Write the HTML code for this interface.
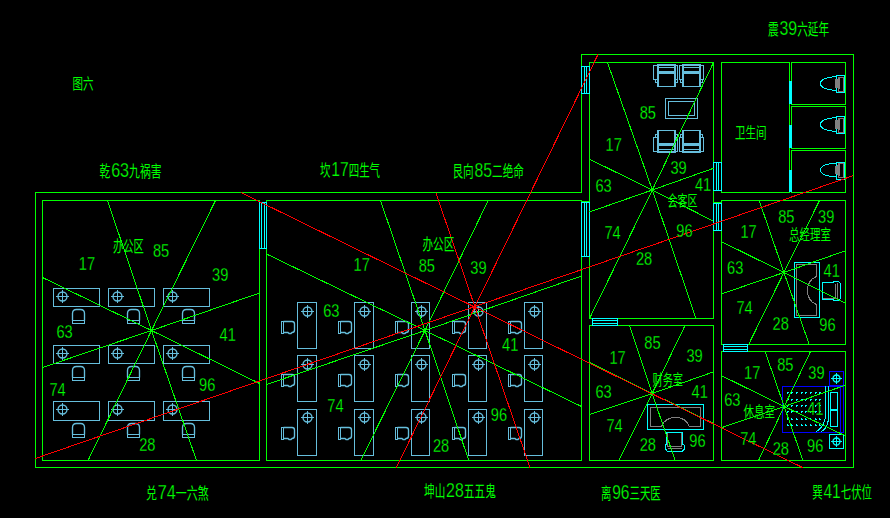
<!DOCTYPE html>
<html lang="zh"><head><meta charset="utf-8"><title>图六</title>
<style>
html,body{margin:0;padding:0;background:#000;}
body{width:890px;height:518px;overflow:hidden;}
svg{display:block}
svg line,svg rect,svg path,svg circle{fill:none;stroke-width:1;shape-rendering:crispEdges;}
text{fill:#00ff00;stroke:none;}
text.d,tspan.d{font-family:"Liberation Sans",sans-serif;font-weight:400;stroke:#000;stroke-width:0.25px;}
svg .aa{shape-rendering:geometricPrecision;stroke-width:1.35;}
text.c{font-family:"Liberation Sans","Noto Sans CJK SC","WenQuanYi Zen Hei",sans-serif;font-weight:400;}
</style></head><body>
<svg width="890" height="518" viewBox="0 0 890 518">
<rect x="0" y="0" width="890" height="518" style="fill:#000;stroke:none"/>
<rect x="53.5" y="288.5" width="46" height="18" stroke="#66bedc" />
<circle class="aa" cx="62.5" cy="296.5" r="4.5" stroke="#66bedc"/>
<line x1="56.0" y1="296.5" x2="69.0" y2="296.5" stroke="#66bedc"/>
<line x1="62.5" y1="290.0" x2="62.5" y2="303.0" stroke="#66bedc"/>
<path d="M72.5,320.5 V313.5 Q72.5,309.5 76.5,309.5 H80.5 Q84.5,309.5 84.5,313.5 V320.5" stroke="#66bedc" class="aa"/>
<rect x="72.5" y="320.5" width="12" height="3" stroke="#66bedc" />
<rect x="108.5" y="288.5" width="46" height="18" stroke="#66bedc" />
<circle class="aa" cx="117.5" cy="296.5" r="4.5" stroke="#66bedc"/>
<line x1="111.0" y1="296.5" x2="124.0" y2="296.5" stroke="#66bedc"/>
<line x1="117.5" y1="290.0" x2="117.5" y2="303.0" stroke="#66bedc"/>
<path d="M127.5,320.5 V313.5 Q127.5,309.5 131.5,309.5 H135.5 Q139.5,309.5 139.5,313.5 V320.5" stroke="#66bedc" class="aa"/>
<rect x="127.5" y="320.5" width="12" height="3" stroke="#66bedc" />
<rect x="163.5" y="288.5" width="46" height="18" stroke="#66bedc" />
<circle class="aa" cx="172.5" cy="296.5" r="4.5" stroke="#66bedc"/>
<line x1="166.0" y1="296.5" x2="179.0" y2="296.5" stroke="#66bedc"/>
<line x1="172.5" y1="290.0" x2="172.5" y2="303.0" stroke="#66bedc"/>
<path d="M182.5,320.5 V313.5 Q182.5,309.5 186.5,309.5 H190.5 Q194.5,309.5 194.5,313.5 V320.5" stroke="#66bedc" class="aa"/>
<rect x="182.5" y="320.5" width="12" height="3" stroke="#66bedc" />
<rect x="53.5" y="345.5" width="46" height="18" stroke="#66bedc" />
<circle class="aa" cx="62.5" cy="353.5" r="4.5" stroke="#66bedc"/>
<line x1="56.0" y1="353.5" x2="69.0" y2="353.5" stroke="#66bedc"/>
<line x1="62.5" y1="347.0" x2="62.5" y2="360.0" stroke="#66bedc"/>
<path d="M72.5,377.5 V370.5 Q72.5,366.5 76.5,366.5 H80.5 Q84.5,366.5 84.5,370.5 V377.5" stroke="#66bedc" class="aa"/>
<rect x="72.5" y="377.5" width="12" height="3" stroke="#66bedc" />
<rect x="108.5" y="345.5" width="46" height="18" stroke="#66bedc" />
<circle class="aa" cx="117.5" cy="353.5" r="4.5" stroke="#66bedc"/>
<line x1="111.0" y1="353.5" x2="124.0" y2="353.5" stroke="#66bedc"/>
<line x1="117.5" y1="347.0" x2="117.5" y2="360.0" stroke="#66bedc"/>
<path d="M127.5,377.5 V370.5 Q127.5,366.5 131.5,366.5 H135.5 Q139.5,366.5 139.5,370.5 V377.5" stroke="#66bedc" class="aa"/>
<rect x="127.5" y="377.5" width="12" height="3" stroke="#66bedc" />
<rect x="163.5" y="345.5" width="46" height="18" stroke="#66bedc" />
<circle class="aa" cx="172.5" cy="353.5" r="4.5" stroke="#66bedc"/>
<line x1="166.0" y1="353.5" x2="179.0" y2="353.5" stroke="#66bedc"/>
<line x1="172.5" y1="347.0" x2="172.5" y2="360.0" stroke="#66bedc"/>
<path d="M182.5,377.5 V370.5 Q182.5,366.5 186.5,366.5 H190.5 Q194.5,366.5 194.5,370.5 V377.5" stroke="#66bedc" class="aa"/>
<rect x="182.5" y="377.5" width="12" height="3" stroke="#66bedc" />
<rect x="53.5" y="401.5" width="46" height="19" stroke="#66bedc" />
<circle class="aa" cx="62.5" cy="409.5" r="4.5" stroke="#66bedc"/>
<line x1="56.0" y1="409.5" x2="69.0" y2="409.5" stroke="#66bedc"/>
<line x1="62.5" y1="403.0" x2="62.5" y2="416.0" stroke="#66bedc"/>
<path d="M72.5,434.5 V427.5 Q72.5,423.5 76.5,423.5 H80.5 Q84.5,423.5 84.5,427.5 V434.5" stroke="#66bedc" class="aa"/>
<rect x="72.5" y="434.5" width="12" height="3" stroke="#66bedc" />
<rect x="108.5" y="401.5" width="46" height="19" stroke="#66bedc" />
<circle class="aa" cx="117.5" cy="409.5" r="4.5" stroke="#66bedc"/>
<line x1="111.0" y1="409.5" x2="124.0" y2="409.5" stroke="#66bedc"/>
<line x1="117.5" y1="403.0" x2="117.5" y2="416.0" stroke="#66bedc"/>
<path d="M127.5,434.5 V427.5 Q127.5,423.5 131.5,423.5 H135.5 Q139.5,423.5 139.5,427.5 V434.5" stroke="#66bedc" class="aa"/>
<rect x="127.5" y="434.5" width="12" height="3" stroke="#66bedc" />
<rect x="163.5" y="401.5" width="46" height="19" stroke="#66bedc" />
<circle class="aa" cx="172.5" cy="409.5" r="4.5" stroke="#66bedc"/>
<line x1="166.0" y1="409.5" x2="179.0" y2="409.5" stroke="#66bedc"/>
<line x1="172.5" y1="403.0" x2="172.5" y2="416.0" stroke="#66bedc"/>
<path d="M182.5,434.5 V427.5 Q182.5,423.5 186.5,423.5 H190.5 Q194.5,423.5 194.5,427.5 V434.5" stroke="#66bedc" class="aa"/>
<rect x="182.5" y="434.5" width="12" height="3" stroke="#66bedc" />
<rect x="297.5" y="302.5" width="19" height="46" stroke="#66bedc" />
<circle class="aa" cx="307.5" cy="311.5" r="4.5" stroke="#66bedc"/>
<line x1="301.0" y1="311.5" x2="314.0" y2="311.5" stroke="#66bedc"/>
<line x1="307.5" y1="305.0" x2="307.5" y2="318.0" stroke="#66bedc"/>
<rect x="281.5" y="321.5" width="2" height="12" stroke="#66bedc" />
<path d="M283.5,321.5 H292 Q294.5,321.5 294.5,324 V330 Q294.5,332.5 292,332.5 L291,333.5 H289 L288,332.5 H283.5" stroke="#66bedc" class="aa"/>
<rect x="354.5" y="302.5" width="19" height="46" stroke="#66bedc" />
<circle class="aa" cx="364.5" cy="311.5" r="4.5" stroke="#66bedc"/>
<line x1="358.0" y1="311.5" x2="371.0" y2="311.5" stroke="#66bedc"/>
<line x1="364.5" y1="305.0" x2="364.5" y2="318.0" stroke="#66bedc"/>
<rect x="338.5" y="321.5" width="2" height="12" stroke="#66bedc" />
<path d="M340.5,321.5 H349 Q351.5,321.5 351.5,324 V330 Q351.5,332.5 349,332.5 L348,333.5 H346 L345,332.5 H340.5" stroke="#66bedc" class="aa"/>
<rect x="411.5" y="302.5" width="18" height="46" stroke="#66bedc" />
<circle class="aa" cx="421.5" cy="311.5" r="4.5" stroke="#66bedc"/>
<line x1="415.0" y1="311.5" x2="428.0" y2="311.5" stroke="#66bedc"/>
<line x1="421.5" y1="305.0" x2="421.5" y2="318.0" stroke="#66bedc"/>
<rect x="395.5" y="321.5" width="2" height="12" stroke="#66bedc" />
<path d="M397.5,321.5 H406 Q408.5,321.5 408.5,324 V330 Q408.5,332.5 406,332.5 L405,333.5 H403 L402,332.5 H397.5" stroke="#66bedc" class="aa"/>
<rect x="468.5" y="302.5" width="18" height="46" stroke="#66bedc" />
<circle class="aa" cx="478.5" cy="311.5" r="4.5" stroke="#66bedc"/>
<line x1="472.0" y1="311.5" x2="485.0" y2="311.5" stroke="#66bedc"/>
<line x1="478.5" y1="305.0" x2="478.5" y2="318.0" stroke="#66bedc"/>
<rect x="452.5" y="321.5" width="2" height="12" stroke="#66bedc" />
<path d="M454.5,321.5 H463 Q465.5,321.5 465.5,324 V330 Q465.5,332.5 463,332.5 L462,333.5 H460 L459,332.5 H454.5" stroke="#66bedc" class="aa"/>
<rect x="524.5" y="302.5" width="18" height="46" stroke="#66bedc" />
<circle class="aa" cx="534.5" cy="311.5" r="4.5" stroke="#66bedc"/>
<line x1="528.0" y1="311.5" x2="541.0" y2="311.5" stroke="#66bedc"/>
<line x1="534.5" y1="305.0" x2="534.5" y2="318.0" stroke="#66bedc"/>
<rect x="508.5" y="321.5" width="2" height="12" stroke="#66bedc" />
<path d="M510.5,321.5 H519 Q521.5,321.5 521.5,324 V330 Q521.5,332.5 519,332.5 L518,333.5 H516 L515,332.5 H510.5" stroke="#66bedc" class="aa"/>
<rect x="297.5" y="355.5" width="19" height="46" stroke="#66bedc" />
<circle class="aa" cx="307.5" cy="364.5" r="4.5" stroke="#66bedc"/>
<line x1="301.0" y1="364.5" x2="314.0" y2="364.5" stroke="#66bedc"/>
<line x1="307.5" y1="358.0" x2="307.5" y2="371.0" stroke="#66bedc"/>
<rect x="281.5" y="374.5" width="2" height="12" stroke="#66bedc" />
<path d="M283.5,374.5 H292 Q294.5,374.5 294.5,377 V383 Q294.5,385.5 292,385.5 L291,386.5 H289 L288,385.5 H283.5" stroke="#66bedc" class="aa"/>
<rect x="354.5" y="355.5" width="19" height="46" stroke="#66bedc" />
<circle class="aa" cx="364.5" cy="364.5" r="4.5" stroke="#66bedc"/>
<line x1="358.0" y1="364.5" x2="371.0" y2="364.5" stroke="#66bedc"/>
<line x1="364.5" y1="358.0" x2="364.5" y2="371.0" stroke="#66bedc"/>
<rect x="338.5" y="374.5" width="2" height="12" stroke="#66bedc" />
<path d="M340.5,374.5 H349 Q351.5,374.5 351.5,377 V383 Q351.5,385.5 349,385.5 L348,386.5 H346 L345,385.5 H340.5" stroke="#66bedc" class="aa"/>
<rect x="411.5" y="355.5" width="18" height="46" stroke="#66bedc" />
<circle class="aa" cx="421.5" cy="364.5" r="4.5" stroke="#66bedc"/>
<line x1="415.0" y1="364.5" x2="428.0" y2="364.5" stroke="#66bedc"/>
<line x1="421.5" y1="358.0" x2="421.5" y2="371.0" stroke="#66bedc"/>
<rect x="395.5" y="374.5" width="2" height="12" stroke="#66bedc" />
<path d="M397.5,374.5 H406 Q408.5,374.5 408.5,377 V383 Q408.5,385.5 406,385.5 L405,386.5 H403 L402,385.5 H397.5" stroke="#66bedc" class="aa"/>
<rect x="468.5" y="355.5" width="18" height="46" stroke="#66bedc" />
<circle class="aa" cx="478.5" cy="364.5" r="4.5" stroke="#66bedc"/>
<line x1="472.0" y1="364.5" x2="485.0" y2="364.5" stroke="#66bedc"/>
<line x1="478.5" y1="358.0" x2="478.5" y2="371.0" stroke="#66bedc"/>
<rect x="452.5" y="374.5" width="2" height="12" stroke="#66bedc" />
<path d="M454.5,374.5 H463 Q465.5,374.5 465.5,377 V383 Q465.5,385.5 463,385.5 L462,386.5 H460 L459,385.5 H454.5" stroke="#66bedc" class="aa"/>
<rect x="524.5" y="355.5" width="18" height="46" stroke="#66bedc" />
<circle class="aa" cx="534.5" cy="364.5" r="4.5" stroke="#66bedc"/>
<line x1="528.0" y1="364.5" x2="541.0" y2="364.5" stroke="#66bedc"/>
<line x1="534.5" y1="358.0" x2="534.5" y2="371.0" stroke="#66bedc"/>
<rect x="508.5" y="374.5" width="2" height="12" stroke="#66bedc" />
<path d="M510.5,374.5 H519 Q521.5,374.5 521.5,377 V383 Q521.5,385.5 519,385.5 L518,386.5 H516 L515,385.5 H510.5" stroke="#66bedc" class="aa"/>
<rect x="297.5" y="409.5" width="19" height="46" stroke="#66bedc" />
<circle class="aa" cx="307.5" cy="417.5" r="4.5" stroke="#66bedc"/>
<line x1="301.0" y1="417.5" x2="314.0" y2="417.5" stroke="#66bedc"/>
<line x1="307.5" y1="411.0" x2="307.5" y2="424.0" stroke="#66bedc"/>
<rect x="281.5" y="427.5" width="2" height="12" stroke="#66bedc" />
<path d="M283.5,427.5 H292 Q294.5,427.5 294.5,430 V436 Q294.5,438.5 292,438.5 L291,439.5 H289 L288,438.5 H283.5" stroke="#66bedc" class="aa"/>
<rect x="354.5" y="409.5" width="19" height="46" stroke="#66bedc" />
<circle class="aa" cx="364.5" cy="417.5" r="4.5" stroke="#66bedc"/>
<line x1="358.0" y1="417.5" x2="371.0" y2="417.5" stroke="#66bedc"/>
<line x1="364.5" y1="411.0" x2="364.5" y2="424.0" stroke="#66bedc"/>
<rect x="338.5" y="427.5" width="2" height="12" stroke="#66bedc" />
<path d="M340.5,427.5 H349 Q351.5,427.5 351.5,430 V436 Q351.5,438.5 349,438.5 L348,439.5 H346 L345,438.5 H340.5" stroke="#66bedc" class="aa"/>
<rect x="411.5" y="409.5" width="18" height="46" stroke="#66bedc" />
<circle class="aa" cx="421.5" cy="417.5" r="4.5" stroke="#66bedc"/>
<line x1="415.0" y1="417.5" x2="428.0" y2="417.5" stroke="#66bedc"/>
<line x1="421.5" y1="411.0" x2="421.5" y2="424.0" stroke="#66bedc"/>
<rect x="395.5" y="427.5" width="2" height="12" stroke="#66bedc" />
<path d="M397.5,427.5 H406 Q408.5,427.5 408.5,430 V436 Q408.5,438.5 406,438.5 L405,439.5 H403 L402,438.5 H397.5" stroke="#66bedc" class="aa"/>
<rect x="468.5" y="409.5" width="18" height="46" stroke="#66bedc" />
<circle class="aa" cx="478.5" cy="417.5" r="4.5" stroke="#66bedc"/>
<line x1="472.0" y1="417.5" x2="485.0" y2="417.5" stroke="#66bedc"/>
<line x1="478.5" y1="411.0" x2="478.5" y2="424.0" stroke="#66bedc"/>
<rect x="452.5" y="427.5" width="2" height="12" stroke="#66bedc" />
<path d="M454.5,427.5 H463 Q465.5,427.5 465.5,430 V436 Q465.5,438.5 463,438.5 L462,439.5 H460 L459,438.5 H454.5" stroke="#66bedc" class="aa"/>
<rect x="524.5" y="409.5" width="18" height="46" stroke="#66bedc" />
<circle class="aa" cx="534.5" cy="417.5" r="4.5" stroke="#66bedc"/>
<line x1="528.0" y1="417.5" x2="541.0" y2="417.5" stroke="#66bedc"/>
<line x1="534.5" y1="411.0" x2="534.5" y2="424.0" stroke="#66bedc"/>
<rect x="508.5" y="427.5" width="2" height="12" stroke="#66bedc" />
<path d="M510.5,427.5 H519 Q521.5,427.5 521.5,430 V436 Q521.5,438.5 519,438.5 L518,439.5 H516 L515,438.5 H510.5" stroke="#66bedc" class="aa"/>
<rect x="657.5" y="64.5" width="18" height="22" stroke="#66bedc" />
<rect x="658.5" y="65.5" width="16" height="21" stroke="#66bedc" />
<line x1="658" y1="67.5" x2="675" y2="67.5" stroke="#66bedc"/>
<rect x="658.5" y="71.5" width="16" height="2" stroke="#66bedc" style="fill:#66bedc"/>
<rect x="653.5" y="65.5" width="4" height="14" stroke="#66bedc" />
<rect x="675.5" y="65.5" width="2" height="14" stroke="#66bedc" />
<rect x="655.5" y="79.5" width="2" height="3" stroke="#66bedc" />
<rect x="675.5" y="79.5" width="2" height="3" stroke="#66bedc" />
<rect x="682.5" y="64.5" width="18" height="22" stroke="#66bedc" />
<rect x="683.5" y="65.5" width="16" height="21" stroke="#66bedc" />
<line x1="683" y1="67.5" x2="700" y2="67.5" stroke="#66bedc"/>
<rect x="683.5" y="71.5" width="16" height="2" stroke="#66bedc" style="fill:#66bedc"/>
<rect x="679.5" y="65.5" width="3" height="14" stroke="#66bedc" />
<rect x="700.5" y="65.5" width="3" height="14" stroke="#66bedc" />
<rect x="680.5" y="79.5" width="2" height="3" stroke="#66bedc" />
<rect x="700.5" y="79.5" width="2" height="3" stroke="#66bedc" />
<rect x="657.5" y="130.5" width="18" height="22" stroke="#66bedc" />
<rect x="658.5" y="130.5" width="16" height="21" stroke="#66bedc" />
<line x1="658" y1="149.5" x2="675" y2="149.5" stroke="#66bedc"/>
<rect x="658.5" y="143.5" width="16" height="2" stroke="#66bedc" style="fill:#66bedc"/>
<rect x="653.5" y="137.5" width="4" height="14" stroke="#66bedc" />
<rect x="675.5" y="137.5" width="2" height="14" stroke="#66bedc" />
<rect x="655.5" y="134.5" width="2" height="3" stroke="#66bedc" />
<rect x="675.5" y="134.5" width="2" height="3" stroke="#66bedc" />
<rect x="682.5" y="130.5" width="18" height="22" stroke="#66bedc" />
<rect x="683.5" y="130.5" width="16" height="21" stroke="#66bedc" />
<line x1="683" y1="149.5" x2="700" y2="149.5" stroke="#66bedc"/>
<rect x="683.5" y="143.5" width="16" height="2" stroke="#66bedc" style="fill:#66bedc"/>
<rect x="679.5" y="137.5" width="3" height="14" stroke="#66bedc" />
<rect x="700.5" y="137.5" width="3" height="14" stroke="#66bedc" />
<rect x="680.5" y="134.5" width="2" height="3" stroke="#66bedc" />
<rect x="700.5" y="134.5" width="2" height="3" stroke="#66bedc" />
<rect x="665.5" y="98.5" width="32" height="20" stroke="#66bedc" />
<rect x="668.5" y="101.5" width="26" height="14" stroke="#66bedc" />
<rect x="647.5" y="404.5" width="56" height="25" stroke="#00ffff" />
<path d="M650.5,407.5 H700.5 V426.5 H689.5 Q686,417.5 675.5,417.5 Q665,417.5 661.5,426.5 H650.5 Z" stroke="#808080" />
<path d="M666.5,432.5 H682.5 V444 Q684.5,444 684.5,447 Q684.5,451.5 680,451.5 H669 Q665.5,451.5 665.5,447 Q665.5,444 666.5,444 Z" stroke="#00ffff" />
<path d="M667.5,433 V446.5 H681.5 V433 M667.5,448.5 H681.5" stroke="#808080" />
<rect x="794.5" y="262.5" width="25" height="55" stroke="#00ffff" />
<path d="M796.5,264.5 H816.5 V276.5 Q807.5,280 807.5,290.5 Q807.5,301 816.5,304.5 V315.5 H796.5 Z" stroke="#808080" />
<path d="M822.5,282.5 H833 V281.5 H837 Q840.5,281.5 840.5,285 V297 Q840.5,300.5 837,300.5 H833 V299.5 H822.5 Z" stroke="#00ffff" />
<path d="M823,298.5 H835.5 V283.5 M837.5,283 V299" stroke="#808080" />
<path d="M836,77.0 C830,76.3 822.5,78.5 820.5,82.3 V84.7 C822.5,88.5 830,90.7 836,90.0" stroke="#00ffff" />
<rect x="836.5" y="75.5" width="8" height="17.0" stroke="#00ffff" />
<rect x="838.5" y="77.0" width="5" height="14.0" stroke="#8a6f6f" />
<path d="M835.5,80.0 L839.5,78.5 V88.5 L835.5,87.0 Z" stroke="#808080" style="fill:#808080"/>
<path d="M836,118.0 C830,117.3 822.5,119.5 820.5,123.3 V125.7 C822.5,129.5 830,131.7 836,131.0" stroke="#00ffff" />
<rect x="836.5" y="116.5" width="8" height="17.0" stroke="#00ffff" />
<rect x="838.5" y="118.0" width="5" height="14.0" stroke="#8a6f6f" />
<path d="M835.5,121.0 L839.5,119.5 V129.5 L835.5,128.0 Z" stroke="#808080" style="fill:#808080"/>
<path d="M836,163.5 C830,162.8 822.5,165 820.5,168.8 V171.2 C822.5,175 830,177.2 836,176.5" stroke="#00ffff" />
<rect x="836.5" y="162.0" width="8" height="17.0" stroke="#00ffff" />
<rect x="838.5" y="163.5" width="5" height="14" stroke="#8a6f6f" />
<path d="M835.5,166.5 L839.5,165 V175 L835.5,173.5 Z" stroke="#808080" style="fill:#808080"/>
<rect x="782.5" y="386.5" width="61" height="46" stroke="#0000ff" />
<line x1="840.5" y1="386" x2="840.5" y2="433" stroke="#0000ff"/>
<rect x="829.5" y="371.5" width="14" height="14" stroke="#0000ff" />
<circle class="aa" cx="836.5" cy="378.5" r="3.5" stroke="#00ffff"/>
<line x1="831.0" y1="378.5" x2="842.0" y2="378.5" stroke="#00ffff"/>
<line x1="836.5" y1="373.0" x2="836.5" y2="384.0" stroke="#00ffff"/>
<rect x="829.5" y="434.5" width="14" height="14" stroke="#00ffff" />
<circle class="aa" cx="836.5" cy="441.5" r="3.5" stroke="#00ffff"/>
<line x1="831.0" y1="441.5" x2="842.0" y2="441.5" stroke="#00ffff"/>
<line x1="836.5" y1="436.0" x2="836.5" y2="447.0" stroke="#00ffff"/>
<rect x="830.5" y="392.5" width="7" height="17" stroke="#00ffff" />
<rect x="830.5" y="410.5" width="7" height="16" stroke="#00ffff" />
<path d="M825.5,386 V414 Q825.5,426 816,432" stroke="#00ffff" />
<path d="M828.5,386 V416 Q828.5,428 821,432" stroke="#00ffff" />
<path d="M787.5,394 V392.5 H789" stroke="#00ffff" />
<path d="M791.5,394 V392.5 H793" stroke="#00ffff" />
<path d="M796.5,394 V392.5 H798" stroke="#00ffff" />
<path d="M801.5,394 V392.5 H803" stroke="#00ffff" />
<path d="M805.5,394 V392.5 H807" stroke="#00ffff" />
<path d="M810.5,394 V392.5 H812" stroke="#00ffff" />
<path d="M815.5,394 V392.5 H817" stroke="#00ffff" />
<path d="M819.5,394 V392.5 H821" stroke="#00ffff" />
<path d="M787.5,401 V399.5 H789" stroke="#00ffff" />
<path d="M791.5,401 V399.5 H793" stroke="#00ffff" />
<path d="M796.5,401 V399.5 H798" stroke="#00ffff" />
<path d="M801.5,401 V399.5 H803" stroke="#00ffff" />
<path d="M805.5,401 V399.5 H807" stroke="#00ffff" />
<path d="M810.5,401 V399.5 H812" stroke="#00ffff" />
<path d="M815.5,401 V399.5 H817" stroke="#00ffff" />
<path d="M819.5,401 V399.5 H821" stroke="#00ffff" />
<path d="M787.5,407 V405.5 H789" stroke="#00ffff" />
<path d="M791.5,407 V405.5 H793" stroke="#00ffff" />
<path d="M796.5,407 V405.5 H798" stroke="#00ffff" />
<path d="M801.5,407 V405.5 H803" stroke="#00ffff" />
<path d="M805.5,407 V405.5 H807" stroke="#00ffff" />
<path d="M810.5,407 V405.5 H812" stroke="#00ffff" />
<path d="M815.5,407 V405.5 H817" stroke="#00ffff" />
<path d="M819.5,407 V405.5 H821" stroke="#00ffff" />
<path d="M787.5,413 V411.5 H789" stroke="#00ffff" />
<path d="M791.5,413 V411.5 H793" stroke="#00ffff" />
<path d="M796.5,413 V411.5 H798" stroke="#00ffff" />
<path d="M801.5,413 V411.5 H803" stroke="#00ffff" />
<path d="M805.5,413 V411.5 H807" stroke="#00ffff" />
<path d="M810.5,413 V411.5 H812" stroke="#00ffff" />
<path d="M815.5,413 V411.5 H817" stroke="#00ffff" />
<path d="M819.5,413 V411.5 H821" stroke="#00ffff" />
<path d="M787.5,418 V419.5 H789" stroke="#00ffff" />
<path d="M791.5,418 V419.5 H793" stroke="#00ffff" />
<path d="M796.5,418 V419.5 H798" stroke="#00ffff" />
<path d="M801.5,418 V419.5 H803" stroke="#00ffff" />
<path d="M805.5,418 V419.5 H807" stroke="#00ffff" />
<path d="M810.5,418 V419.5 H812" stroke="#00ffff" />
<path d="M815.5,418 V419.5 H817" stroke="#00ffff" />
<path d="M819.5,418 V419.5 H821" stroke="#00ffff" />
<path d="M787.5,424 V425.5 H789" stroke="#00ffff" />
<path d="M791.5,424 V425.5 H793" stroke="#00ffff" />
<path d="M796.5,424 V425.5 H798" stroke="#00ffff" />
<path d="M801.5,424 V425.5 H803" stroke="#00ffff" />
<path d="M805.5,424 V425.5 H807" stroke="#00ffff" />
<path d="M810.5,424 V425.5 H812" stroke="#00ffff" />
<path d="M815.5,424 V425.5 H817" stroke="#00ffff" />
<path d="M819.5,424 V425.5 H821" stroke="#00ffff" />
<line x1="35" y1="192.5" x2="582" y2="192.5" stroke="#00ff00"/>
<line x1="35.5" y1="192" x2="35.5" y2="468" stroke="#00ff00"/>
<line x1="35" y1="467.5" x2="854" y2="467.5" stroke="#00ff00"/>
<line x1="853.5" y1="54" x2="853.5" y2="468" stroke="#00ff00"/>
<line x1="581" y1="54.5" x2="854" y2="54.5" stroke="#00ff00"/>
<line x1="581.5" y1="54" x2="581.5" y2="193" stroke="#00ff00"/>
<line x1="42" y1="200.5" x2="260" y2="200.5" stroke="#00ff00"/>
<line x1="266" y1="200.5" x2="582" y2="200.5" stroke="#00ff00"/>
<line x1="42.5" y1="200" x2="42.5" y2="461" stroke="#00ff00"/>
<line x1="42" y1="460.5" x2="260" y2="460.5" stroke="#00ff00"/>
<line x1="259.5" y1="248" x2="259.5" y2="461" stroke="#00ff00"/>
<line x1="266.5" y1="200" x2="266.5" y2="203" stroke="#00ff00"/>
<line x1="266.5" y1="248" x2="266.5" y2="461" stroke="#00ff00"/>
<line x1="266" y1="460.5" x2="582" y2="460.5" stroke="#00ff00"/>
<line x1="581.5" y1="256" x2="581.5" y2="461" stroke="#00ff00"/>
<line x1="589" y1="62.5" x2="714" y2="62.5" stroke="#00ff00"/>
<line x1="589.5" y1="62" x2="589.5" y2="202" stroke="#00ff00"/>
<line x1="589.5" y1="256" x2="589.5" y2="319" stroke="#00ff00"/>
<line x1="589" y1="318.5" x2="714" y2="318.5" stroke="#00ff00"/>
<line x1="713.5" y1="62" x2="713.5" y2="319" stroke="#00ff00"/>
<line x1="581" y1="201.5" x2="590" y2="201.5" stroke="#00ff00"/>
<line x1="581" y1="256.5" x2="590" y2="256.5" stroke="#00ff00"/>
<rect x="589.5" y="325.5" width="124" height="135" stroke="#00ff00" />
<rect x="721.5" y="62.5" width="68" height="130" stroke="#00ff00" />
<rect x="791.5" y="62.5" width="54" height="42" stroke="#00ff00" />
<rect x="791.5" y="106.5" width="54" height="42" stroke="#00ff00" />
<rect x="791.5" y="150.5" width="54" height="42" stroke="#00ff00" />
<rect x="721.5" y="200.5" width="124" height="144" stroke="#00ff00" />
<rect x="721.5" y="351.5" width="124" height="109" stroke="#00ff00" />
<line x1="721.5" y1="190" x2="721.5" y2="193" stroke="#00ff00"/>
<line x1="721.5" y1="200" x2="721.5" y2="203" stroke="#00ff00"/>
<line x1="713" y1="202.5" x2="722" y2="202.5" stroke="#00ff00"/>
<line x1="259.5" y1="202" x2="259.5" y2="249" stroke="#00ffff"/>
<line x1="261.5" y1="202" x2="261.5" y2="249" stroke="#00ffff"/>
<line x1="264.5" y1="202" x2="264.5" y2="249" stroke="#00ffff"/>
<line x1="266.5" y1="202" x2="266.5" y2="249" stroke="#00ffff"/>
<line x1="259" y1="202.5" x2="267" y2="202.5" stroke="#00ffff"/>
<line x1="259" y1="248.5" x2="267" y2="248.5" stroke="#00ffff"/>
<line x1="581.5" y1="66" x2="581.5" y2="94" stroke="#00ffff"/>
<line x1="584.5" y1="66" x2="584.5" y2="94" stroke="#00ffff"/>
<line x1="586.5" y1="66" x2="586.5" y2="94" stroke="#00ffff"/>
<line x1="589.5" y1="66" x2="589.5" y2="94" stroke="#00ffff"/>
<line x1="581" y1="66.5" x2="590" y2="66.5" stroke="#00ffff"/>
<line x1="581" y1="93.5" x2="590" y2="93.5" stroke="#00ffff"/>
<line x1="581.5" y1="202" x2="581.5" y2="257" stroke="#00ffff"/>
<line x1="584.5" y1="202" x2="584.5" y2="257" stroke="#00ffff"/>
<line x1="586.5" y1="202" x2="586.5" y2="257" stroke="#00ffff"/>
<line x1="589.5" y1="202" x2="589.5" y2="257" stroke="#00ffff"/>
<line x1="581" y1="202.5" x2="590" y2="202.5" stroke="#00ffff"/>
<line x1="581" y1="256.5" x2="590" y2="256.5" stroke="#00ffff"/>
<line x1="713.5" y1="162" x2="713.5" y2="191" stroke="#00ffff"/>
<line x1="716.5" y1="162" x2="716.5" y2="191" stroke="#00ffff"/>
<line x1="718.5" y1="162" x2="718.5" y2="191" stroke="#00ffff"/>
<line x1="721.5" y1="162" x2="721.5" y2="191" stroke="#00ffff"/>
<line x1="713" y1="162.5" x2="722" y2="162.5" stroke="#00ffff"/>
<line x1="713" y1="190.5" x2="722" y2="190.5" stroke="#00ffff"/>
<line x1="713.5" y1="203" x2="713.5" y2="231" stroke="#00ffff"/>
<line x1="716.5" y1="203" x2="716.5" y2="231" stroke="#00ffff"/>
<line x1="718.5" y1="203" x2="718.5" y2="231" stroke="#00ffff"/>
<line x1="721.5" y1="203" x2="721.5" y2="231" stroke="#00ffff"/>
<line x1="713" y1="203.5" x2="722" y2="203.5" stroke="#00ffff"/>
<line x1="713" y1="230.5" x2="722" y2="230.5" stroke="#00ffff"/>
<line x1="592" y1="318.5" x2="618" y2="318.5" stroke="#00ffff"/>
<line x1="592" y1="320.5" x2="618" y2="320.5" stroke="#00ffff"/>
<line x1="592" y1="323.5" x2="618" y2="323.5" stroke="#00ffff"/>
<line x1="592" y1="325.5" x2="618" y2="325.5" stroke="#00ffff"/>
<line x1="592.5" y1="318" x2="592.5" y2="326" stroke="#00ffff"/>
<line x1="617.5" y1="318" x2="617.5" y2="326" stroke="#00ffff"/>
<line x1="723" y1="344.5" x2="748" y2="344.5" stroke="#00ffff"/>
<line x1="723" y1="346.5" x2="748" y2="346.5" stroke="#00ffff"/>
<line x1="723" y1="349.5" x2="748" y2="349.5" stroke="#00ffff"/>
<line x1="723" y1="351.5" x2="748" y2="351.5" stroke="#00ffff"/>
<line x1="723.5" y1="344" x2="723.5" y2="352" stroke="#00ffff"/>
<line x1="747.5" y1="344" x2="747.5" y2="352" stroke="#00ffff"/>
<rect x="789" y="81" width="3" height="23" style="fill:#00ffff;stroke:none"/>
<rect x="789" y="125" width="3" height="23" style="fill:#00ffff;stroke:none"/>
<rect x="789" y="170" width="3" height="22" style="fill:#00ffff;stroke:none"/>
<line x1="151.5" y1="330.5" x2="107.5" y2="200.5" stroke="#00ff00"/>
<line x1="151.5" y1="330.5" x2="215.5" y2="200.5" stroke="#00ff00"/>
<line x1="151.5" y1="330.5" x2="42.5" y2="277.5" stroke="#00ff00"/>
<line x1="151.5" y1="330.5" x2="42.5" y2="367.5" stroke="#00ff00"/>
<line x1="151.5" y1="330.5" x2="259.5" y2="293.0" stroke="#00ff00"/>
<line x1="151.5" y1="330.5" x2="259.5" y2="383.5" stroke="#00ff00"/>
<line x1="151.5" y1="330.5" x2="88.0" y2="460.5" stroke="#00ff00"/>
<line x1="151.5" y1="330.5" x2="196.5" y2="460.5" stroke="#00ff00"/>
<line x1="425.0" y1="330.5" x2="380.5" y2="200.5" stroke="#00ff00"/>
<line x1="425.0" y1="330.5" x2="488.25" y2="200.5" stroke="#00ff00"/>
<line x1="425.0" y1="330.5" x2="266.5" y2="254.0" stroke="#00ff00"/>
<line x1="425.0" y1="330.5" x2="266.5" y2="384.5" stroke="#00ff00"/>
<line x1="425.0" y1="330.5" x2="581.5" y2="276.0" stroke="#00ff00"/>
<line x1="425.0" y1="330.5" x2="581.5" y2="406.5" stroke="#00ff00"/>
<line x1="425.0" y1="330.5" x2="360.75" y2="460.5" stroke="#00ff00"/>
<line x1="425.0" y1="330.5" x2="468.75" y2="460.5" stroke="#00ff00"/>
<line x1="652.3" y1="190.0" x2="607.5" y2="62.5" stroke="#00ff00"/>
<line x1="652.3" y1="190.0" x2="713.5" y2="62.5" stroke="#00ff00"/>
<line x1="652.3" y1="190.0" x2="589.5" y2="159.2" stroke="#00ff00"/>
<line x1="652.3" y1="190.0" x2="589.5" y2="212.0" stroke="#00ff00"/>
<line x1="652.3" y1="190.0" x2="713.5" y2="168.3" stroke="#00ff00"/>
<line x1="652.3" y1="190.0" x2="713.5" y2="221.2" stroke="#00ff00"/>
<line x1="652.3" y1="190.0" x2="589.5" y2="318.5" stroke="#00ff00"/>
<line x1="652.3" y1="190.0" x2="696.0" y2="318.5" stroke="#00ff00"/>
<line x1="652.1" y1="393.5" x2="629.5" y2="325.5" stroke="#00ff00"/>
<line x1="652.1" y1="393.5" x2="685.0" y2="325.5" stroke="#00ff00"/>
<line x1="652.1" y1="393.5" x2="589.5" y2="362.5" stroke="#00ff00"/>
<line x1="652.1" y1="393.5" x2="589.5" y2="414.5" stroke="#00ff00"/>
<line x1="652.1" y1="393.5" x2="713.5" y2="371.9" stroke="#00ff00"/>
<line x1="652.1" y1="393.5" x2="713.5" y2="423.5" stroke="#00ff00"/>
<line x1="652.1" y1="393.5" x2="618.9" y2="460.5" stroke="#00ff00"/>
<line x1="652.1" y1="393.5" x2="675.2" y2="460.5" stroke="#00ff00"/>
<line x1="783.9" y1="272.5" x2="759.4" y2="201.1" stroke="#00ff00"/>
<line x1="783.9" y1="272.5" x2="819.2" y2="201.1" stroke="#00ff00"/>
<line x1="783.9" y1="272.5" x2="722.0" y2="241.9" stroke="#00ff00"/>
<line x1="783.9" y1="272.5" x2="722.0" y2="293.7" stroke="#00ff00"/>
<line x1="783.9" y1="272.5" x2="845.5" y2="250.7" stroke="#00ff00"/>
<line x1="783.9" y1="272.5" x2="845.5" y2="303.2" stroke="#00ff00"/>
<line x1="783.9" y1="272.5" x2="748.25" y2="345.25" stroke="#00ff00"/>
<line x1="783.9" y1="272.5" x2="809.5" y2="345.25" stroke="#00ff00"/>
<line x1="784.2" y1="406.5" x2="765.3" y2="352.0" stroke="#00ff00"/>
<line x1="784.2" y1="406.5" x2="810.3" y2="352.0" stroke="#00ff00"/>
<line x1="784.2" y1="406.5" x2="722.0" y2="375.9" stroke="#00ff00"/>
<line x1="784.2" y1="406.5" x2="722.0" y2="427.5" stroke="#00ff00"/>
<line x1="784.2" y1="406.5" x2="845.5" y2="385.2" stroke="#00ff00"/>
<line x1="784.2" y1="406.5" x2="845.5" y2="435.9" stroke="#00ff00"/>
<line x1="784.2" y1="406.5" x2="758.5" y2="460.5" stroke="#00ff00"/>
<line x1="784.2" y1="406.5" x2="803.0" y2="460.5" stroke="#00ff00"/>
<line x1="35" y1="458.6" x2="853.5" y2="175.6" stroke="#ff0000"/>
<line x1="240.75" y1="192.5" x2="803" y2="467.75" stroke="#ff0000"/>
<line x1="396.25" y1="467.75" x2="598" y2="54.5" stroke="#ff0000"/>
<line x1="435.75" y1="192.5" x2="530" y2="467.75" stroke="#ff0000"/>
<text class="c" x="72.5" y="88.7" font-size="15.26"><tspan dy="0.00" textLength="21.00" lengthAdjust="spacingAndGlyphs">图六</tspan></text>
<text class="c" x="99.5" y="176.7" font-size="15.79"><tspan dy="0.00" textLength="10.83" lengthAdjust="spacingAndGlyphs">乾</tspan><tspan class="d" dx="0.8" dy="0.01" font-size="19.57" textLength="17.98" lengthAdjust="spacingAndGlyphs">63</tspan><tspan dy="-0.01" textLength="32.49" lengthAdjust="spacingAndGlyphs">九祸害</tspan></text>
<text class="c" x="320.0" y="176.2" font-size="15.79"><tspan dy="0.00" textLength="10.48" lengthAdjust="spacingAndGlyphs">坎</tspan><tspan class="d" dx="0.8" dy="0.01" font-size="19.57" textLength="17.39" lengthAdjust="spacingAndGlyphs">17</tspan><tspan dy="-0.01" textLength="31.43" lengthAdjust="spacingAndGlyphs">四生气</tspan></text>
<text class="c" x="452.5" y="176.7" font-size="15.79"><tspan dy="0.00" textLength="21.18" lengthAdjust="spacingAndGlyphs">艮向</tspan><tspan class="d" dx="0.8" dy="0.01" font-size="19.57" textLength="17.59" lengthAdjust="spacingAndGlyphs">85</tspan><tspan dy="-0.01" textLength="31.78" lengthAdjust="spacingAndGlyphs">二绝命</tspan></text>
<text class="c" x="768.0" y="35.4" font-size="15.79"><tspan dy="0.00" textLength="10.65" lengthAdjust="spacingAndGlyphs">震</tspan><tspan class="d" dx="0.8" dy="0.01" font-size="19.57" textLength="17.69" lengthAdjust="spacingAndGlyphs">39</tspan><tspan dy="-0.01" textLength="31.96" lengthAdjust="spacingAndGlyphs">六延年</tspan></text>
<text class="c" x="146.0" y="498.7" font-size="15.79"><tspan dy="0.00" textLength="10.92" lengthAdjust="spacingAndGlyphs">兑</tspan><tspan class="d" dx="0.8" dy="0.01" font-size="19.57" textLength="18.13" lengthAdjust="spacingAndGlyphs">74</tspan><tspan dy="-0.01" textLength="32.75" lengthAdjust="spacingAndGlyphs">一六煞</tspan></text>
<text class="c" x="424.0" y="496.5" font-size="15.79"><tspan dy="0.00" textLength="21.32" lengthAdjust="spacingAndGlyphs">坤山</tspan><tspan class="d" dx="0.8" dy="0.01" font-size="19.57" textLength="17.70" lengthAdjust="spacingAndGlyphs">28</tspan><tspan dy="-0.01" textLength="31.98" lengthAdjust="spacingAndGlyphs">五五鬼</tspan></text>
<text class="c" x="601.0" y="498.5" font-size="15.79"><tspan dy="0.00" textLength="10.42" lengthAdjust="spacingAndGlyphs">离</tspan><tspan class="d" dx="0.8" dy="0.01" font-size="19.57" textLength="17.31" lengthAdjust="spacingAndGlyphs">96</tspan><tspan dy="-0.01" textLength="31.27" lengthAdjust="spacingAndGlyphs">三天医</tspan></text>
<text class="c" x="812.2" y="498.2" font-size="15.79"><tspan dy="0.00" textLength="10.42" lengthAdjust="spacingAndGlyphs">巽</tspan><tspan class="d" dx="0.8" dy="0.01" font-size="19.57" textLength="17.31" lengthAdjust="spacingAndGlyphs">41</tspan><tspan dy="-0.01" textLength="31.27" lengthAdjust="spacingAndGlyphs">七伏位</tspan></text>
<text class="c" transform="translate(113.0,251.7) scale(0.652,1)" font-size="15.79">办公区</text>
<text class="c" transform="translate(422.5,250.2) scale(0.671,1)" font-size="15.79">办公区</text>
<text class="c" transform="translate(667.5,205.7) scale(0.660,1)" font-size="15.16">会客区</text>
<text class="c" transform="translate(652.5,385.0) scale(0.682,1)" font-size="14.95">财务室</text>
<text class="c" transform="translate(789.0,239.9) scale(0.702,1)" font-size="14.95">总经理室</text>
<text class="c" transform="translate(743.5,416.8) scale(0.702,1)" font-size="14.95">休息室</text>
<text class="c" transform="translate(735.0,138.4) scale(0.702,1)" font-size="14.95">卫生间</text>
<text class="d" transform="translate(152.9,257.0) scale(0.829,1)" font-size="17.68">85</text>
<text class="d" transform="translate(78.8,270.2) scale(0.829,1)" font-size="17.68">17</text>
<text class="d" transform="translate(212.0,281.4) scale(0.829,1)" font-size="17.68">39</text>
<text class="d" transform="translate(56.4,338.1) scale(0.829,1)" font-size="17.68">63</text>
<text class="d" transform="translate(219.5,340.6) scale(0.829,1)" font-size="17.68">41</text>
<text class="d" transform="translate(49.4,396.4) scale(0.829,1)" font-size="17.68">74</text>
<text class="d" transform="translate(199.0,391.4) scale(0.829,1)" font-size="17.68">96</text>
<text class="d" transform="translate(139.2,450.6) scale(0.829,1)" font-size="17.68">28</text>
<text class="d" transform="translate(353.6,271.4) scale(0.829,1)" font-size="17.68">17</text>
<text class="d" transform="translate(418.7,272.2) scale(0.829,1)" font-size="17.68">85</text>
<text class="d" transform="translate(470.3,273.9) scale(0.829,1)" font-size="17.68">39</text>
<text class="d" transform="translate(502.0,351.3) scale(0.829,1)" font-size="17.68">41</text>
<text class="d" transform="translate(323.2,317.4) scale(0.829,1)" font-size="17.68">63</text>
<text class="d" transform="translate(327.3,412.2) scale(0.829,1)" font-size="17.68">74</text>
<text class="d" transform="translate(490.8,421.3) scale(0.829,1)" font-size="17.68">96</text>
<text class="d" transform="translate(432.9,452.0) scale(0.829,1)" font-size="17.68">28</text>
<text class="d" transform="translate(605.5,150.6) scale(0.829,1)" font-size="17.68">17</text>
<text class="d" transform="translate(670.4,174.2) scale(0.829,1)" font-size="17.68">39</text>
<text class="d" transform="translate(595.4,191.9) scale(0.829,1)" font-size="17.68">63</text>
<text class="d" transform="translate(694.9,191.4) scale(0.829,1)" font-size="17.68">41</text>
<text class="d" transform="translate(639.7,119.4) scale(0.829,1)" font-size="17.68">85</text>
<text class="d" transform="translate(604.4,239.2) scale(0.829,1)" font-size="17.68">74</text>
<text class="d" transform="translate(676.3,236.6) scale(0.829,1)" font-size="17.68">96</text>
<text class="d" transform="translate(635.9,265.3) scale(0.829,1)" font-size="17.68">28</text>
<text class="d" transform="translate(644.3,349.0) scale(0.829,1)" font-size="17.68">85</text>
<text class="d" transform="translate(609.4,364.1) scale(0.829,1)" font-size="17.68">17</text>
<text class="d" transform="translate(686.4,361.6) scale(0.829,1)" font-size="17.68">39</text>
<text class="d" transform="translate(595.4,397.5) scale(0.829,1)" font-size="17.68">63</text>
<text class="d" transform="translate(691.5,397.8) scale(0.829,1)" font-size="17.68">41</text>
<text class="d" transform="translate(606.4,431.7) scale(0.829,1)" font-size="17.68">74</text>
<text class="d" transform="translate(639.7,451.4) scale(0.829,1)" font-size="17.68">28</text>
<text class="d" transform="translate(689.3,447.3) scale(0.829,1)" font-size="17.68">96</text>
<text class="d" transform="translate(778.2,222.7) scale(0.829,1)" font-size="17.68">85</text>
<text class="d" transform="translate(818.1,222.7) scale(0.829,1)" font-size="17.68">39</text>
<text class="d" transform="translate(740.4,237.8) scale(0.829,1)" font-size="17.68">17</text>
<text class="d" transform="translate(727.1,274.3) scale(0.829,1)" font-size="17.68">63</text>
<text class="d" transform="translate(823.5,277.2) scale(0.829,1)" font-size="17.68">41</text>
<text class="d" transform="translate(736.4,314.3) scale(0.829,1)" font-size="17.68">74</text>
<text class="d" transform="translate(772.6,329.5) scale(0.829,1)" font-size="17.68">28</text>
<text class="d" transform="translate(819.3,331.1) scale(0.829,1)" font-size="17.68">96</text>
<text class="d" transform="translate(777.2,370.6) scale(0.829,1)" font-size="17.68">85</text>
<text class="d" transform="translate(744.0,379.4) scale(0.829,1)" font-size="17.68">17</text>
<text class="d" transform="translate(808.3,379.4) scale(0.829,1)" font-size="17.68">39</text>
<text class="d" transform="translate(724.2,406.0) scale(0.829,1)" font-size="17.68">63</text>
<text class="d" transform="translate(807.2,414.5) scale(0.829,1)" font-size="17.68">41</text>
<text class="d" transform="translate(740.2,445.2) scale(0.829,1)" font-size="17.68">74</text>
<text class="d" transform="translate(772.7,454.6) scale(0.829,1)" font-size="17.68">28</text>
<text class="d" transform="translate(807.1,452.2) scale(0.829,1)" font-size="17.68">96</text>
</svg>
</body></html>
